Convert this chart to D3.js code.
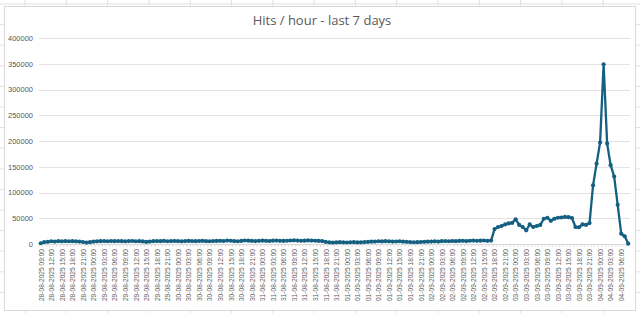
<!DOCTYPE html>
<html>
<head>
<meta charset="utf-8">
<script src="https://cdn.jsdelivr.net/npm/d3@7"></script>
<style>
  body { margin: 0; background: #fff; }
  svg { display: block; font-family: "Open Sans", "Liberation Sans", sans-serif; }
  .axis text { fill: #595959; }
</style>
</head>
<body>
<script>
var W = 640, H = 313;

// first hour of the series, one point per hour
var startTime = new Date(2025, 7, 28, 9, 0);
var yTicks = [0, 50000, 100000, 150000, 200000, 250000, 300000, 350000, 400000];
var labelEvery = 3;

// hits per hour
var hits = [
  1500, 3800, 4200, 5300, 4800, 5500, 5100, 5600, 5300, 5500, 5000, 4700, 3900,
  2800, 3500, 4600, 5200, 5500, 5700, 5300, 5600,
  5400, 5700, 5500, 5100, 5600, 5800, 5300, 5500, 5000, 4100,
  4700, 5400, 5700, 5500, 5900, 5300, 5600, 5800, 5500, 5200,
  5700, 6000, 5600, 5400, 5800, 6100, 5500, 5300, 5700, 5900,
  6200, 5800, 6600, 6300, 5700, 5300, 5900, 6800, 6400, 6000,
  5600, 6100, 6500, 6200, 5800, 6400, 6700, 6100, 5900, 6300,
  6800, 7100, 6600, 6200, 6500, 6900, 6700, 6300, 6000, 5700,
  4100, 3300, 2800, 3000, 3600, 3200, 2900, 3400, 3800, 3100,
  3300, 3700, 4100, 4500, 4800, 5300, 5000, 5500, 5200, 4700,
  4900, 5300, 4600, 4300, 3700, 3400, 3600, 3900, 4300, 4500,
  4800, 5100, 4700, 5400, 5600, 5300, 5800, 5500, 5900, 6100,
  5700, 6300, 6600, 6100, 6400, 6800, 6200, 6700,
  29000, 33000, 35000, 38000, 40000, 41000, 48000,
  37000, 33000, 26500, 38000, 33000, 35000, 37000, 49000, 51000, 45000,
  49000, 51000, 51500, 52500, 52000, 50500,
  33000, 32500, 38000, 37000, 40700,
  114000, 156000, 197000, 349000, 195000, 153000, 131000, 76000, 20000, 15000, 600
];

var times = d3.timeHours(startTime, d3.timeHour.offset(startTime, hits.length));
var fmt = d3.timeFormat("%d-%m-%Y %H:%M");
var categories = times.map(fmt);

var svg = d3.select("body").append("svg")
  .attr("width", W)
  .attr("height", H);

// spreadsheet cells behind the chart
var bg = svg.append("g");
d3.range(25, W, 41.3).forEach(function(x) {
  bg.append("line").attr("x1", x).attr("x2", x).attr("y1", 0).attr("y2", H)
    .attr("stroke", "#e1e1e1");
});
d3.range(4, H, 20.6).forEach(function(y) {
  bg.append("line").attr("x1", 0).attr("x2", W).attr("y1", y).attr("y2", y)
    .attr("stroke", "#e1e1e1");
});

// chart area
svg.append("rect")
  .attr("x", 4.5).attr("y", 6.5)
  .attr("width", 631).attr("height", 304)
  .attr("fill", "#fff")
  .attr("stroke", "#d9d9d9");

svg.append("text")
  .attr("x", 322)
  .attr("y", 25)
  .attr("text-anchor", "middle")
  .attr("fill", "#595959")
  .style("font-size", "13px")
  .text("Hits / hour - last 7 days");

var plot = {left: 39, right: 630, top: 38, bottom: 244};

var x = d3.scalePoint()
  .domain(categories)
  .range([plot.left, plot.right])
  .padding(0.5);

var y = d3.scaleLinear()
  .domain([0, 400000])
  .range([plot.bottom, plot.top]);

// gridlines
svg.append("g")
  .selectAll("line")
  .data(yTicks.slice(1))
  .enter().append("line")
    .attr("x1", plot.left).attr("x2", plot.right)
    .attr("y1", function(d) { return Math.round(y(d)) + 0.5; })
    .attr("y2", function(d) { return Math.round(y(d)) + 0.5; })
    .attr("stroke", "#e3e3e3")
    .attr("stroke-width", 1);

// y axis labels
var yAxis = d3.axisLeft(y)
  .tickValues(yTicks)
  .tickSize(0)
  .tickPadding(6)
  .tickFormat(d3.format("d"));

var gY = svg.append("g")
  .attr("class", "axis")
  .attr("transform", "translate(" + plot.left + ",0)")
  .call(yAxis);
gY.select(".domain").remove();
gY.selectAll("text").style("font-size", "7.5px");

// x axis
var step = x.step();
var xAxis = d3.axisBottom(x)
  .tickValues(categories.filter(function(d, i) { return i % labelEvery === 0; }))
  .tickSize(0)
  .tickPadding(4);

var gX = svg.append("g")
  .attr("class", "axis")
  .attr("transform", "translate(0," + plot.bottom + ")")
  .call(xAxis);
gX.select(".domain").remove();
gX.selectAll("text")
  .style("font-size", "6.6px")
  .attr("transform", "rotate(-90)")
  .attr("text-anchor", "end")
  .attr("dy", "0.35em")
  .attr("x", -5)
  .attr("y", 0);

svg.append("line")
  .attr("x1", plot.left).attr("x2", plot.right)
  .attr("y1", plot.bottom + 0.5).attr("y2", plot.bottom + 0.5)
  .attr("stroke", "#d9d9d9");

// small hourly tick marks under the axis
svg.append("g")
  .selectAll("line")
  .data(categories)
  .enter().append("line")
    .attr("x1", function(d) { return x(d) - step / 2; })
    .attr("x2", function(d) { return x(d) - step / 2; })
    .attr("y1", plot.bottom)
    .attr("y2", plot.bottom + 3)
    .attr("stroke", "#d9d9d9")
    .attr("stroke-width", 0.8);

// series
var line = d3.line()
  .x(function(d, i) { return x(categories[i]); })
  .y(function(d) { return y(d); });

svg.append("path")
  .datum(hits)
  .attr("fill", "none")
  .attr("stroke", "#156082")
  .attr("stroke-width", 2.3)
  .attr("stroke-linejoin", "round")
  .attr("d", line);

svg.append("g")
  .selectAll("circle")
  .data(hits)
  .enter().append("circle")
    .attr("cx", function(d, i) { return x(categories[i]); })
    .attr("cy", function(d) { return y(d); })
    .attr("r", 2.1)
    .attr("fill", "#156082");
</script>
</body>
</html>
